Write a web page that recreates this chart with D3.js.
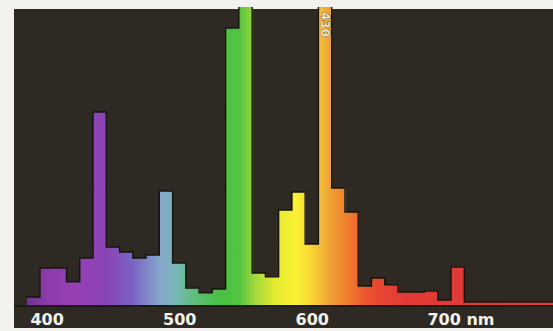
<!DOCTYPE html>
<html><head><meta charset="utf-8">
<script src="https://cdn.jsdelivr.net/npm/d3@7"></script>
<style>
html,body{margin:0;padding:0;background:#f3f2ef;}
svg{display:block;}
</style></head>
<body>
<script>
// ---- data ----
const wavelengths = [390,400,410,420,430,440,450,460,470,480,490,500,510,520,530,540,550,560,570,580,590,600,610,620,630,640,650,660,670,680,690,700,710,720,730,740,750,760,770,780];
const intensity   = [2.7,12.5,12.5,7.8,15.9,65.2,19.6,17.9,15.9,16.9,38.5,14.2,5.7,4.1,5.4,93.6,120,10.8,9.5,32.1,38.2,20.6,120,39.5,31.4,6.4,9.1,6.8,4.4,4.4,4.7,1.7,12.8,1.0,1.0,1.0,1.0,1.0,1.0,1.0];
const tickValues  = [400,500,600,700];
const tickLabels  = ["400","500","600","700"];
const unitLabel   = "nm";
const peakLabel   = "430";
const colorStops  = [[385,"#6e3592"],[400,"#8c3aa8"],[420,"#9640b4"],[445,"#8a44b4"],[465,"#7a64c2"],[485,"#86a4cc"],[498,"#76b8b4"],[512,"#5ebe78"],[530,"#48c046"],[545,"#52c440"],[558,"#a6d83c"],[572,"#e4ea30"],[588,"#faf234"],[600,"#f8d432"],[612,"#f0a838"],[628,"#f07a2c"],[645,"#ea4c30"],[670,"#e23a36"],[790,"#de3c3c"]];

const W = 553, H = 331;
const svg = d3.select("body").append("svg").attr("width", W).attr("height", H);

// dark panel
svg.append("rect").attr("x",14).attr("y",9).attr("width",W-14).attr("height",319).attr("fill","#2e2a23");

const x = d3.scaleLinear().domain([400,700]).range([46.6,444.4]);
const y = d3.scaleLinear().domain([0,100]).range([305,9]);
const binW = 10;

const defs = svg.append("defs");
const grad = defs.append("linearGradient").attr("id","spec").attr("gradientUnits","userSpaceOnUse")
  .attr("x1",x(385)).attr("x2",x(790)).attr("y1",0).attr("y2",0);
const gx0 = x(385), gx1 = x(790);
colorStops.forEach(([w,c]) => grad.append("stop").attr("offset",((x(w)-gx0)/(gx1-gx0))).attr("stop-color",c));
defs.append("clipPath").attr("id","clip").append("rect").attr("x",14).attr("y",7).attr("width",W-14).attr("height",298);

const data = wavelengths.map((w,i)=>({w, v:intensity[i]}));
const g = svg.append("g").attr("clip-path","url(#clip)");

g.selectAll("rect.bar").data(data).join("rect").attr("class","bar")
  .attr("x", d => x(d.w - binW/2))
  .attr("width", d => x(d.w + binW/2) - x(d.w - binW/2) + 0.6)
  .attr("y", d => y(d.v))
  .attr("height", d => y(0) - y(d.v))
  .attr("fill","url(#spec)")
  .attr("shape-rendering","crispEdges");

// outline of the step histogram
const pts = [];
data.forEach(d => { pts.push([d.w - binW/2, d.v]); pts.push([d.w + binW/2, d.v]); });
const line = d3.line().x(p => x(p[0])).y(p => y(p[1]));
g.append("path").attr("d", line(pts)).attr("fill","none").attr("stroke","#15140f").attr("stroke-width",1.4);

// baseline
svg.append("line").attr("x1",14).attr("x2",W).attr("y1",y(0)+1).attr("y2",y(0)+1).attr("stroke","#1c1a15").attr("stroke-width",2);

// axis
const axis = d3.axisBottom(x).tickValues(tickValues).tickFormat((d,i)=>tickLabels[i]).tickSize(0).tickPadding(0);
const ax = svg.append("g").attr("transform",`translate(0,${y(0)})`).call(axis);
ax.select(".domain").remove();
ax.selectAll("text").attr("y",20).attr("dy",0)
  .attr("fill","#f2f2ee").attr("font-family","DejaVu Sans, sans-serif").attr("font-weight","bold").attr("font-size","16px");
ax.selectAll(".tick").filter(d => d === 700).select("text").append("tspan").text(" " + unitLabel);
ax.selectAll(".tick").filter(d => d === 700).select("text").attr("text-anchor","start").attr("x",-17.5);

// rotated peak label on the orange line
svg.append("text").attr("transform",`translate(${x(610)-4.5},12) rotate(90)`)
  .attr("font-family","DejaVu Sans, sans-serif").attr("font-size","12px").attr("font-weight","bold")
  .attr("fill","#ece6cc").attr("stroke","#3a3020").attr("stroke-width",0.7).attr("paint-order","stroke")
  .text(peakLabel);
</script>
</body></html>
